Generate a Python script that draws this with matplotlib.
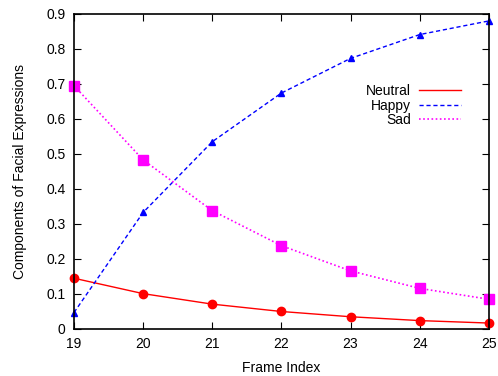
import matplotlib
matplotlib.use('Agg')
import matplotlib.pyplot as plt

plt.rcParams['font.family'] = ['Liberation Sans', 'DejaVu Sans']

frames = [19, 20, 21, 22, 23, 24, 25]
neutral = [0.145, 0.101, 0.071, 0.050, 0.035, 0.024, 0.017]
happy = [0.047, 0.333, 0.535, 0.674, 0.773, 0.841, 0.880]
sad = [0.695, 0.483, 0.338, 0.238, 0.166, 0.116, 0.085]

fig = plt.figure(figsize=(4.98, 3.76), dpi=100)
ax = fig.add_axes([0.1486, 0.125, 0.833, 0.838])

ax.plot(frames, neutral, '-', color='#ff0000', lw=1, label='Neutral')
ax.plot(frames, happy, '--', color='#0000ff', lw=1, dashes=(3, 2), label='Happy')
ax.plot(frames, sad, ':', color='#ff00ff', lw=1.2, dashes=(1, 1.5), label='Sad')

ax.plot(frames, neutral, 'o', color='#ff0000', ms=6, clip_on=False)
ax.plot(frames, happy, '^', color='#0000ff', ms=5, clip_on=False)
ax.plot(frames, sad, 's', color='#ff00ff', ms=6.5, clip_on=False)

ax.set_xlim(19, 25)
ax.set_ylim(0, 0.9)
ax.set_xticks(frames)
ax.set_yticks([0, 0.1, 0.2, 0.3, 0.4, 0.5, 0.6, 0.7, 0.8, 0.9])
ax.set_yticklabels(['0', '0.1', '0.2', '0.3', '0.4', '0.5', '0.6', '0.7', '0.8', '0.9'])
ax.tick_params(direction='in', top=True, right=True, length=5, labelsize=10, pad=6)
for s in ax.spines.values():
    s.set_linewidth(1.2)

ax.set_xlabel('Frame Index', fontsize=10, labelpad=7)
ax.set_ylabel('Components of Facial Expressions', fontsize=10, labelpad=14)

ax.legend(loc='upper right', bbox_to_anchor=(0.95, 0.80), frameon=False, markerfirst=False,
          fontsize=10, handlelength=3.0, labelspacing=0.05, handletextpad=0.6, borderpad=0)

fig.savefig('out.png', dpi=100)
